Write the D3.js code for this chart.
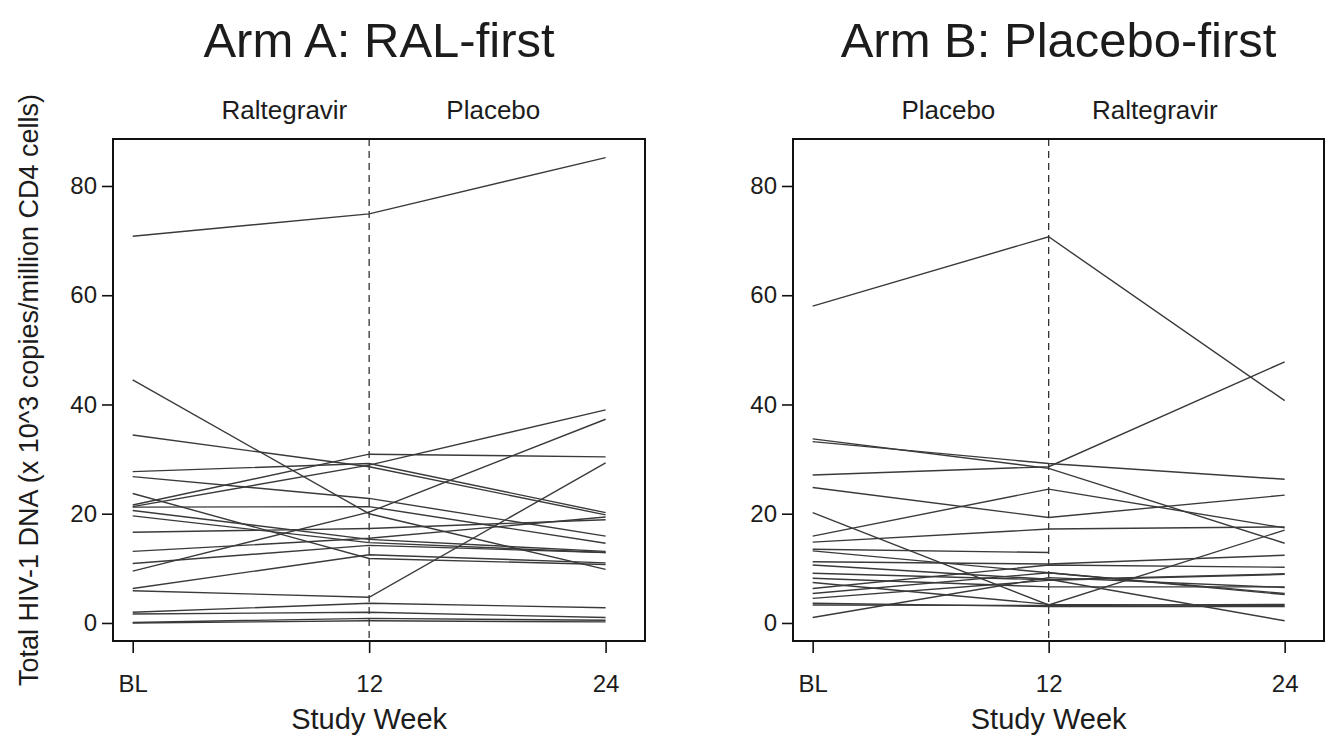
<!DOCTYPE html>
<html>
<head>
<meta charset="utf-8">
<script src="https://cdn.jsdelivr.net/npm/d3@7"></script>
<style>
  body { margin: 0; background: #fff; }
  svg { display: block; font-family: "Liberation Sans", Arial, sans-serif; }
</style>
</head>
<body>
<svg></svg>
<script>
const width = 1332;
const height = 739;

const weeks = [0, 12, 24];
const weekLabels = ["BL", "12", "24"];
const yTicks = [0, 20, 40, 60, 80];

const titleA = "Arm A: RAL-first";
const titleB = "Arm B: Placebo-first";
const periodsA = ["Raltegravir", "Placebo"];
const periodsB = ["Placebo", "Raltegravir"];

// values per participant: BL, week 12, week 24
const armA = [
    [70.8, 74.9, 85.2],
    [44.5, 20.0, 9.8],
    [34.4, 28.6, 19.8],
    [27.7, 29.2, 20.2],
    [21.6, 30.9, 30.4],
    [21.3, 28.9, 39.0],
    [26.8, 22.8, 15.9],
    [23.7, 11.8, 10.7],
    [21.2, 21.3, 14.6],
    [20.6, 15.3, 13.1],
    [19.6, 14.7, 12.9],
    [16.6, 17.3, 18.9],
    [13.1, 15.5, 19.4],
    [10.9, 14.2, 12.9],
    [9.5, 20.3, 37.3],
    [6.3, 12.5, 11.0],
    [5.9, 4.7, 29.3],
    [1.95, 3.6, 2.8],
    [1.65, 1.95, 1.0],
    [0.1, 0.85, 0.5],
    [0.0, 0.4, 0.2]
];

const armB = [
    [58.0, 70.7, 40.7],
    [33.7, 28.3, 14.6],
    [33.2, 29.2, 26.3],
    [27.1, 28.6, 47.8],
    [24.8, 19.3, 23.4],
    [20.2, 3.3, 17.0],
    [15.9, 24.5, 17.4],
    [14.8, 17.2, 17.6],
    [13.5, 12.9, null],
    [13.2, 9.2, 5.4],
    [11.2, 10.8, 12.4],
    [10.6, 8.0, 0.4],
    [9.1, 7.9, 9.0],
    [8.2, 6.6, 6.6],
    [7.4, 3.4, 3.2],
    [6.3, 10.6, 10.2],
    [5.4, 9.2, 5.2],
    [4.5, 7.8, 8.9],
    [3.6, 3.0, 3.0],
    [3.3, 3.2, 3.4],
    [1.0, 8.3, 6.5]
];

const plotTop = 139;
const plotBottom = 641;
const textColor = "#1c1c1c";
const lineColor = "#3a3a3a";

let svg = d3.select("svg")
     .attr("width", width)
     .attr("height", height);

function drawPanel(cfg) {
    // scales
    let scaleX = d3.scaleLinear()
     .domain([-1, 26])
     .range([cfg.left, cfg.right]);

    let scaleY = d3.scaleLinear()
     .domain([-3.3, 88.6])
     .range([plotBottom, plotTop]);

    let g = svg.append("g");

    // axes
    let axisX = d3.axisBottom(scaleX)
     .tickValues(weeks)
     .tickFormat((d, i) => weekLabels[i])
     .tickSize(12)
     .tickPadding(22);

    let axisY = d3.axisLeft(scaleY)
     .tickValues(yTicks)
     .tickSize(11)
     .tickPadding(5);

    let gx = g.append("g")
     .attr("transform", `translate(0, ${plotBottom})`)
     .call(axisX);

    let gy = g.append("g")
     .attr("transform", `translate(${cfg.left}, 0)`)
     .call(axisY);

    [gx, gy].forEach(ax => {
        ax.select(".domain").remove();
        ax.selectAll("line")
         .attr("stroke", "#111")
         .attr("stroke-width", 1.6);
        ax.selectAll("text")
         .attr("fill", textColor)
         .style("font-size", "24px")
         .style("font-family", "'Liberation Sans', Arial, sans-serif");
    });

    // dashed line at week 12
    g.append("line")
     .attr("x1", scaleX(12))
     .attr("x2", scaleX(12))
     .attr("y1", plotTop)
     .attr("y2", plotBottom)
     .attr("stroke", "#333")
     .attr("stroke-width", 1.3)
     .attr("stroke-dasharray", "7,5");

    // participant lines
    let line = d3.line()
     .defined(d => d !== null)
     .x((d, i) => scaleX(weeks[i]))
     .y(d => scaleY(d));

    g.selectAll(".subject")
     .data(cfg.data)
     .enter()
     .append("path")
     .attr("class", "subject")
     .attr("d", d => line(d))
     .attr("fill", "none")
     .attr("stroke", lineColor)
     .attr("stroke-width", 1.4);

    // frame
    g.append("rect")
     .attr("x", cfg.left)
     .attr("y", plotTop)
     .attr("width", cfg.right - cfg.left)
     .attr("height", plotBottom - plotTop)
     .attr("fill", "none")
     .attr("stroke", "#111")
     .attr("stroke-width", 2);

    // title
    g.append("text")
     .attr("x", (cfg.left + cfg.right) / 2)
     .attr("y", 57)
     .attr("text-anchor", "middle")
     .attr("fill", textColor)
     .style("font-size", "49px")
     .text(cfg.title);

    // treatment period labels
    g.selectAll(".period")
     .data(cfg.periods)
     .enter()
     .append("text")
     .attr("class", "period")
     .attr("x", (d, i) => scaleX(cfg.periodAt[i]))
     .attr("y", 119)
     .attr("text-anchor", "middle")
     .attr("fill", textColor)
     .style("font-size", "26px")
     .text(d => d);

    // x axis title, centred on week 12
    g.append("text")
     .attr("x", scaleX(12))
     .attr("y", 729)
     .attr("text-anchor", "middle")
     .attr("fill", textColor)
     .style("font-size", "29px")
     .text("Study Week");
}

drawPanel({ left: 113, right: 645, data: armA, title: titleA,
            periods: periodsA, periodAt: [7.7, 18.3] });
drawPanel({ left: 793, right: 1324, data: armB, title: titleB,
            periods: periodsB, periodAt: [6.9, 17.4] });

// y axis title
svg.append("text")
     .attr("transform", "translate(31, 390) rotate(-90)")
     .attr("text-anchor", "middle")
     .attr("dominant-baseline", "middle")
     .attr("fill", textColor)
     .style("font-size", "27px")
     .text("Total HIV-1 DNA (x 10^3 copies/million CD4 cells)");
</script>
</body>
</html>
